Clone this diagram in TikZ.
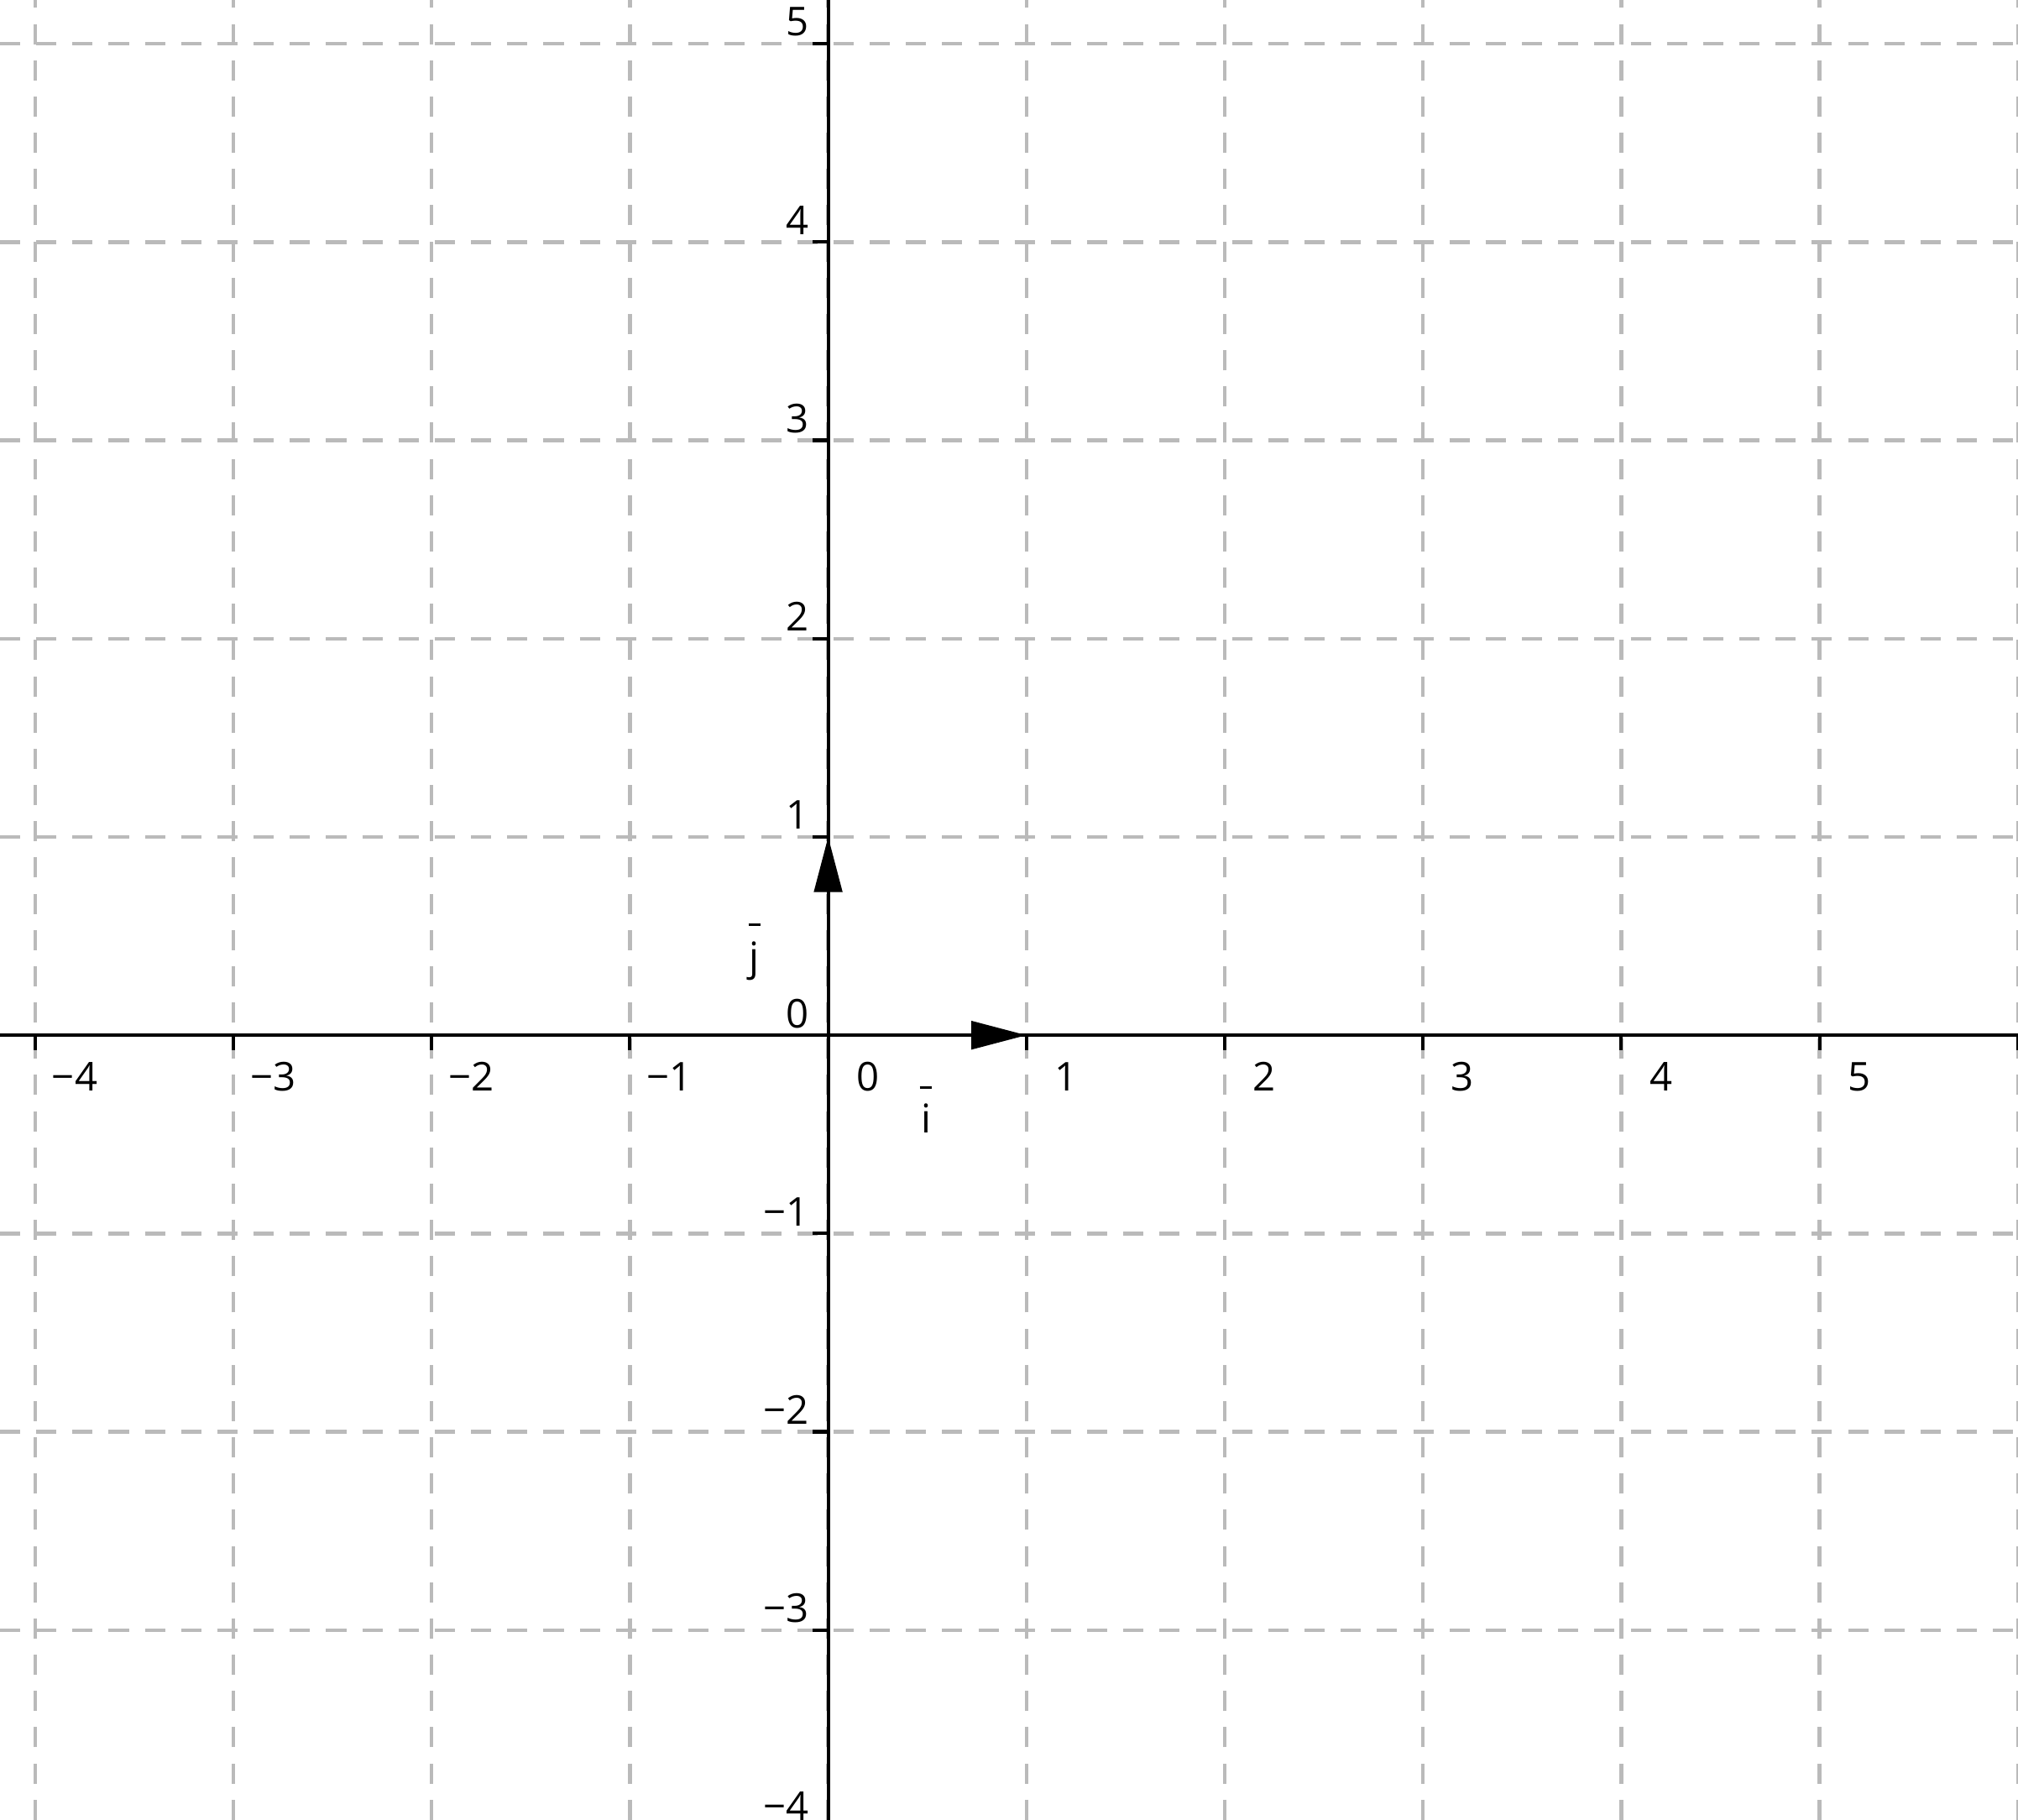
\documentclass[tikz,border=0pt]{standalone}
\usepackage{fontspec}
\setmainfont{Open Sans}
\usetikzlibrary{arrows.meta}
\newcommand{\barvec}[1]{\ooalign{#1\cr\hidewidth\rule[1.12em]{0.31em}{0.06em}\hidewidth\cr}}
\tikzset{
  gridline/.style={black!27, line width=0.52pt, dash pattern=on 2.9pt off 2.3pt},
  axisline/.style={black, line width=0.5pt},
  ticklabel/.style={inner sep=0pt, font=\fontsize{5.7}{6.8}\selectfont},
  vecarrow/.style={axisline, -{Triangle[length=7.9pt, width=4pt]}},
}
\begin{document}
\begin{tikzpicture}
  \useasboundingbox (-4.177,-3.957) rectangle (6.001,5.221);
  \fill[white] (-4.177,-3.957) rectangle (6.001,5.221);
  \clip (-4.177,-3.957) rectangle (6.001,5.221);
  %% Grid
  \foreach \x in {-4,...,6}
    \draw[gridline] (\x,-3.957) -- (\x,5.221);
  \foreach \y in {-3,...,5}
    \draw[gridline] (-4.177,\y) -- (6.001,\y);
  %% Axes
  \draw[axisline] (-4.177,0) -- (6.001,0);
  \draw[axisline] (0,-3.957) -- (0,5.221);
  %% Ticks
  \foreach \x in {-4,...,-1,1,2,...,6}
    \draw[axisline] (\x,0) -- (\x,-0.077);
  \foreach \y in {-4,...,-1,1,2,...,5}
    \draw[axisline] (0,\y) -- (-0.08,\y);
  %% Tick labels
  \foreach \x/\t in {-4/−4,-3/−3,-2/−2,-1/−1,0/0,1/1,2/2,3/3,4/4,5/5}
    \node[ticklabel] (xlab\x) at (\x+0.2,-0.21) {\t};
  \foreach \y/\t in {-4/−4,-3/−3,-2/−2,-1/−1,0/0,1/1,2/2,3/3,4/4,5/5}
    \node[ticklabel, anchor=east] (ylab\y) at (-0.09,\y+0.11) {\t};
  %% Unit vectors
  \coordinate (O) at (0,0);
  \coordinate (ivec) at (1,0);
  \coordinate (jvec) at (0,1);
  \draw[vecarrow] (O) -- (ivec);
  \draw[vecarrow] (O) -- (jvec);
  \node[ticklabel] (ilab) at (0.493,-0.42) {\barvec{i}};
  \node[ticklabel] (jlab) at (-0.371,0.40) {\barvec{j}};
\end{tikzpicture}
\end{document}
